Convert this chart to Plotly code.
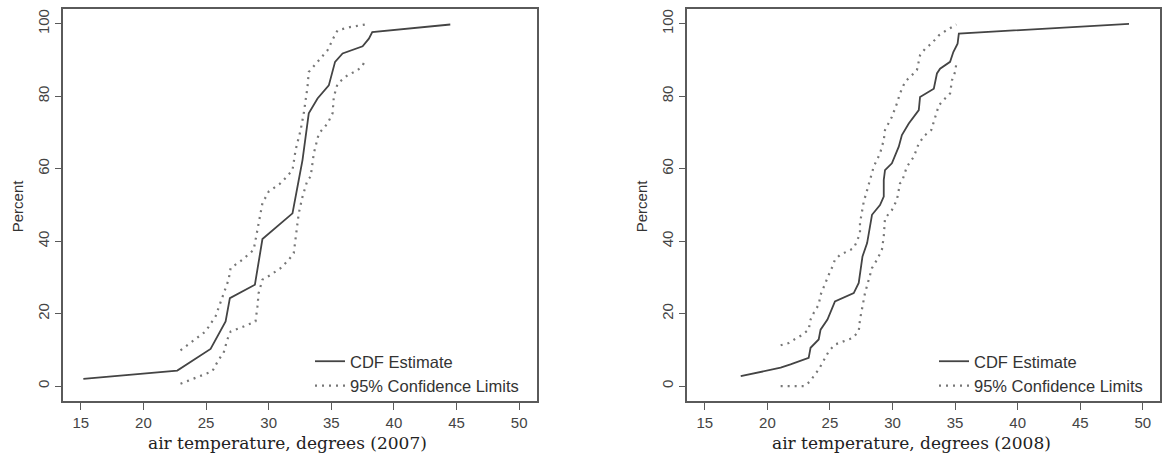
import plotly.graph_objects as go

# ---- data: 2007 ----
cdf07_x = [15.2, 22.7, 25.36, 26.56, 26.9, 28.9, 29.5, 31.9, 32.4, 32.7, 33.2, 33.9, 34.8, 35.3, 35.9, 37.5, 38.0, 38.27, 44.5]
cdf07_y = [2.0, 4.3, 10.3, 17.9, 24.3, 28.0, 40.6, 47.7, 56.9, 62.4, 75.3, 79.4, 83.0, 89.5, 91.8, 93.8, 95.9, 97.7, 99.8]

up07_x = [22.96, 23.9, 24.96, 25.76, 26.3, 26.8, 26.96, 27.9, 28.8, 29.2, 29.5, 30.0, 30.95, 31.2, 31.9, 32.15, 32.55, 32.8, 33.1, 33.2, 34.0, 34.7, 35.2, 35.5, 36.5, 37.7]
up07_y = [9.9, 12.4, 15.1, 19.3, 24.3, 29.4, 32.6, 34.9, 37.6, 45.0, 50.5, 53.7, 56.0, 56.9, 59.6, 65.2, 70.7, 75.3, 82.6, 86.7, 89.9, 92.7, 96.3, 98.2, 99.1, 99.8]

lo07_x = [22.96, 23.76, 24.8, 25.5, 26.0, 26.4, 26.7, 26.96, 28.0, 28.95, 29.1, 29.2, 29.5, 30.15, 30.95, 31.6, 32.0, 32.15, 32.3, 32.4, 32.7, 33.1, 33.35, 33.6, 34.0, 34.7, 35.1, 35.2, 35.5, 36.3, 37.1, 37.5, 37.7]
lo07_y = [0.7, 1.8, 3.2, 4.1, 7.3, 9.2, 12.9, 15.1, 16.5, 17.9, 22.0, 25.7, 29.4, 30.7, 32.6, 34.9, 36.7, 40.4, 44.0, 47.7, 52.3, 56.9, 57.8, 64.2, 69.7, 72.5, 75.3, 79.8, 83.5, 85.8, 87.2, 88.5, 89.9]

# ---- data: 2008 ----
cdf08_x = [17.87, 21.06, 21.85, 23.3, 23.45, 24.1, 24.25, 24.8, 25.4, 26.9, 27.3, 27.6, 27.97, 28.2, 28.36, 29.0, 29.3, 29.3, 29.4, 29.95, 30.5, 30.75, 31.3, 32.1, 32.2, 33.3, 33.55, 33.8, 34.6, 34.86, 35.2, 35.3, 48.9]
cdf08_y = [2.75, 5.1, 6.0, 7.8, 10.6, 12.9, 15.6, 18.4, 23.4, 25.7, 28.5, 35.8, 39.5, 44.0, 47.3, 50.0, 52.3, 56.9, 59.6, 61.5, 66.1, 69.3, 72.5, 76.2, 79.8, 82.1, 86.3, 87.6, 89.5, 92.2, 94.5, 97.3, 100.0]

up08_x = [21.06, 21.7, 22.2, 22.8, 23.3, 23.45, 23.7, 24.1, 24.25, 24.5, 24.9, 25.2, 25.4, 25.8, 26.4, 26.9, 27.15, 27.4, 27.4, 27.55, 27.7, 27.97, 28.2, 28.5, 29.0, 29.3, 29.4, 29.95, 30.35, 30.6, 31.0, 31.4, 31.95, 32.2, 32.6, 33.1, 33.7, 34.3, 35.1]
up08_y = [11.3, 11.9, 13.0, 14.2, 15.6, 18.4, 20.2, 22.5, 25.2, 27.5, 30.7, 33.0, 34.9, 36.2, 37.2, 38.1, 39.9, 42.2, 45.0, 48.2, 50.9, 54.1, 56.9, 60.6, 64.2, 67.9, 70.7, 74.3, 78.0, 80.8, 84.0, 85.3, 87.2, 91.3, 93.1, 94.5, 96.8, 98.2, 99.8]

lo08_x = [21.06, 22.9, 23.45, 23.7, 24.1, 24.5, 24.9, 25.4, 26.1, 26.8, 27.3, 27.4, 27.55, 27.8, 28.1, 28.36, 28.76, 29.15, 29.3, 29.4, 29.95, 30.35, 30.6, 30.75, 31.15, 31.7, 32.1, 32.6, 33.1, 33.4, 33.7, 34.2, 34.6, 34.75, 35.0, 35.1]
lo08_y = [0.0, 0.0, 1.4, 2.8, 4.6, 6.9, 9.6, 11.5, 12.4, 13.3, 15.1, 18.4, 21.1, 25.7, 29.4, 32.6, 34.9, 37.6, 41.3, 46.3, 48.6, 51.4, 56.0, 56.4, 60.6, 63.3, 67.0, 69.3, 70.7, 74.3, 77.5, 79.4, 80.8, 84.4, 86.7, 89.0]

x_ticks = [15, 20, 25, 30, 35, 40, 45, 50]
y_ticks = [0, 20, 40, 60, 80, 100]
x_titles = ["air temperature, degrees (2007)", "air temperature, degrees (2008)"]
legend_names = ["CDF Estimate", "95% Confidence Limits"]

W, H = 1162, 463
SOLID = "#444444"
DOT = "#777777"
AXC = "#5a5a5a"
SANS = "Liberation Sans, Arial, sans-serif"

fig = go.Figure()

panels = [
    (cdf07_x, cdf07_y, up07_x, up07_y, lo07_x, lo07_y, "x", "y", "legend"),
    (cdf08_x, cdf08_y, up08_x, up08_y, lo08_x, lo08_y, "x2", "y2", "legend2"),
]
for cx, cy, ux, uy, lx, ly, xa, ya, lg in panels:
    fig.add_trace(go.Scatter(x=cx, y=cy, mode="lines", xaxis=xa, yaxis=ya,
                             line=dict(color=SOLID, width=1.8), name=legend_names[0],
                             legend=lg, showlegend=True))
    fig.add_trace(go.Scatter(x=ux, y=uy, mode="lines", xaxis=xa, yaxis=ya,
                             line=dict(color=DOT, width=2.2, dash="2px,5px"), name=legend_names[1],
                             legend=lg, showlegend=True))
    fig.add_trace(go.Scatter(x=lx, y=ly, mode="lines", xaxis=xa, yaxis=ya,
                             line=dict(color=DOT, width=2.2, dash="2px,5px"), name=legend_names[1],
                             legend=lg, showlegend=False))

top_px, bot_px = 9.3, 400.7
ydom = [(H - bot_px) / H, (H - top_px) / H]
xdoms = [[63.3 / W, 536.7 / W], [687.3 / W, 1160.3 / W]]

tickfont = dict(family=SANS, size=15, color="#444444")
common_x = dict(range=[13.6, 51.4], tickvals=x_ticks, ticks="outside", ticklen=7, tickwidth=1.3,
                tickcolor=AXC, showline=True, linecolor=AXC, linewidth=1.6, mirror=True,
                showgrid=False, zeroline=False, tickfont=tickfont, automargin=False)
common_y = dict(range=[-4, 104], tickvals=y_ticks, ticks="outside", ticklen=7, tickwidth=1.3,
                tickcolor=AXC, showline=True, linecolor=AXC, linewidth=1.6, mirror=True,
                showgrid=False, zeroline=False, tickfont=tickfont, tickangle=-90,
                automargin=False, domain=ydom)

legfont = dict(family=SANS, size=16.5, color="#333333")
fig.update_layout(
    width=W, height=H,
    margin=dict(l=0, r=0, t=0, b=0),
    paper_bgcolor="white", plot_bgcolor="white",
    xaxis=dict(domain=xdoms[0], anchor="y", **common_x),
    yaxis=dict(anchor="x", **common_y),
    xaxis2=dict(domain=xdoms[1], anchor="y2", **common_x),
    yaxis2=dict(anchor="x2", **common_y),
    legend=dict(x=310 / W, y=(H - 344) / H, xanchor="left", yanchor="top",
                bgcolor="rgba(0,0,0,0)", font=legfont, tracegroupgap=0, itemwidth=30),
    legend2=dict(x=934 / W, y=(H - 344) / H, xanchor="left", yanchor="top",
                 bgcolor="rgba(0,0,0,0)", font=legfont, tracegroupgap=0, itemwidth=30),
    showlegend=True,
)

# axis titles
title_centers = [287.5, 911.5]
for i, dom in enumerate(xdoms):
    fig.add_annotation(text=x_titles[i], xref="paper", yref="paper", x=title_centers[i] / W, y=(H - 443) / H,
                       showarrow=False, xanchor="center", yanchor="middle",
                       font=dict(family="DejaVu Serif, Liberation Serif, serif", size=17, color="#222222"))
    fig.add_annotation(text="Percent", xref="paper", yref="paper", x=(dom[0] * W - 45) / W, y=(H - 206) / H,
                       showarrow=False, xanchor="center", yanchor="middle", textangle=-90,
                       font=dict(family=SANS, size=15, color="#333333"))

fig.write_html("out.html")
